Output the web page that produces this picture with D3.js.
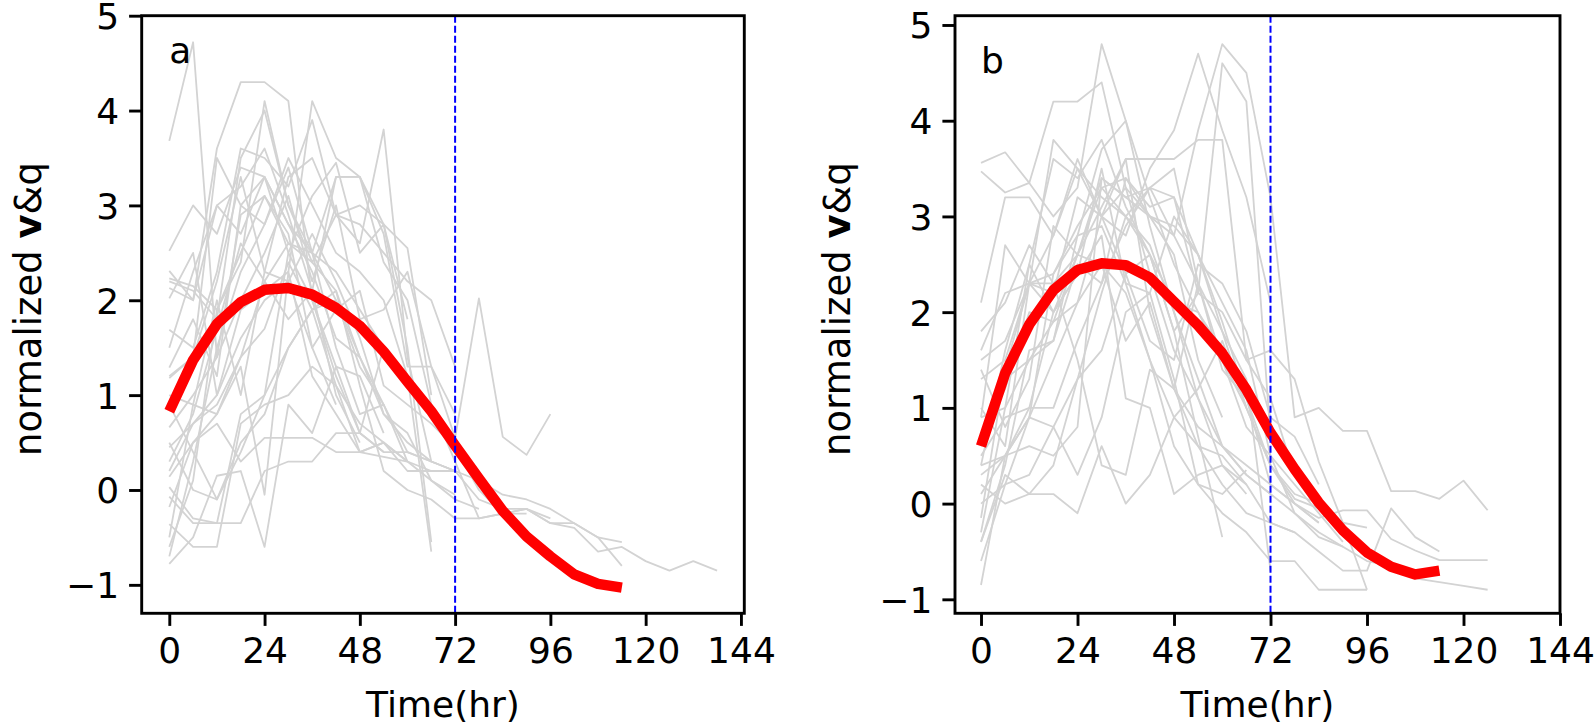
<!DOCTYPE html>
<html>
<head>
<meta charset="utf-8">
<script src="https://cdn.jsdelivr.net/npm/d3@7"></script>
<style>
html,body{margin:0;padding:0;background:#fff;}
svg{display:block;font-family:"DejaVu Sans",sans-serif;}
</style>
</head>
<body>
<svg id="chart" width="1594" height="728"></svg>
<script>
// ---- data (values every 6 hours starting at t = 0) ----
const timeStep = 6;
const xTicks = [0, 24, 48, 72, 96, 120, 144];
const yTicks = [-1, 0, 1, 2, 3, 4, 5];
const cutoffHour = 72;
const panelLabels = ["a", "b"];

const meanA = [0.83, 1.37, 1.75, 1.98, 2.11, 2.13, 2.06, 1.92, 1.73, 1.46, 1.14, 0.83, 0.47, 0.12, -0.22, -0.49, -0.70, -0.89, -0.99, -1.03];
const meanB = [0.60, 1.36, 1.87, 2.23, 2.44, 2.51, 2.49, 2.36, 2.11, 1.86, 1.57, 1.19, 0.74, 0.36, 0.01, -0.28, -0.51, -0.66, -0.74, -0.70];

const casesA = [
  [3.68, 4.72, 1.4, 2.9, 3.1, 2.7, 1.5, 0.9],
  [2.52, 3.0, 2.7, 3.4, 3.3, 2.8, 2.3, 1.6, 1.4],
  [2.31, 2.0, 3.6, 4.3, 4.3, 4.1, 2.0, 1.2, 0.6, 0.4],
  [2.23, 2.15, 1.9, 2.4, 4.1, 3.0, 2.5, 1.5, 0.8, 0.9, 0.3],
  [2.13, 2.0, 3.0, 3.2, 3.6, 2.9, 2.1, 3.3, 3.3, 2.7, 1.3, 1.3, 0.8],
  [2.02, 2.5, 1.0, 1.9, 2.1, 2.3, 4.1, 3.5, 3.3, 2.4, 2.0, 0.9, 0.3, -0.3, -0.25, -0.25],
  [1.69, 1.5, 2.3, 3.6, 3.5, 3.2, 3.9, 2.9, 2.6, 3.8, 1.4, 0.3, 0.2],
  [1.29, 1.8, 1.2, 3.0, 2.8, 3.4, 2.5, 3.3, 3.3, 2.8, 2.55, 1.0],
  [1.18, 1.4, 2.2, 3.3, 2.3, 2.2, 2.7, 2.2, 1.6, 0.8, 0.6, 0.1, -0.05],
  [0.66, 1.0, 1.4, 2.0, 2.5, 3.1, 2.2, 3.0, 1.8, 1.9, 2.3, 1.3, 0.55, 2.02, 0.56, 0.37, 0.8],
  [0.45, 0.7, 1.0, 1.6, 2.0, 2.2, 1.5, 1.9, 2.1, 1.1, 0.9, 0.7, 0.45, 0.0, -0.25, -0.2, -0.35, -0.35, -0.5, -0.55],
  [0.14, 0.5, 0.8, 1.4, 1.7, 2.4, 1.9, 2.1, 1.4, 0.8, 0.5, 0.3, 0.2, -0.1, -0.2, -0.2, -0.35, -0.4, -0.65, -0.6, -0.75, -0.85, -0.75, -0.85],
  [0.03, -0.3, -0.35, 0.8, 1.0, 1.5, 1.9, 2.0, 1.3, 0.9, 0.4, 0.3, 0.2, 0.1, -0.05, -0.1, -0.2, -0.35, -0.5, -0.8],
  [-0.07, -0.35, -0.35, -0.35, 0.2, 0.3, 0.3, 0.6, 0.6, 0.4, 0.4, 0.3],
  [-0.18, 0.5, 0.7, 0.3, 0.55, 0.55, 0.55, 0.4, 0.4, 0.5, 0.3, 0.2, 0.2],
  [-0.36, -0.6, -0.6, 0.7, 0.9, 1.0, 1.3, 1.1, 0.7, 0.5, 0.2, 0.2],
  [-0.78, -0.5, 0.15, 0.2, -0.6, 0.9, 0.6, 1.3, 1.2, 0.6],
  [-0.7, 0.3, 1.5, 2.3, 2.8, 3.5, 3.0, 2.5, 2.3, 2.0, 1.2, -0.65],
  [0.3, 0.8, 1.7, 2.6, 2.2, 1.8, 2.1, 1.0, 0.5],
  [1.0, 0.9, 0.8, 1.3, -0.05, 2.3, 1.2, 0.8, 0.4, 0.35, 0.3],
  [-0.6, 0.1, 1.9, 2.5, 3.1, 2.6, 2.5, 2.0, 1.4, 0.9],
  [0.5, 0.0, -0.1, 0.4, 1.0, 2.5, 3.1, 3.45, 2.5, 2.8, 1.5, -0.55],
  [1.2, 1.4, 3.5, 3.0, 3.3, 2.5, 2.0, 1.3, 0.6, 1.5],
  [-0.5, 0.9, 2.0, 1.0, 2.3, 3.3, 3.5, 2.9, 2.8, 2.5, 2.2, 2.0, 1.3],
  [2.2, 2.1, 1.8, 3.5, 4.0, 3.0, 2.4, 2.9, 3.0, 2.8, 1.8],
  [0.9, 0.4, -0.1, 0.5, 0.8, 1.5, 1.9, 1.1, 0.4, 0.5, 0.3, 0.1, -0.1, -0.2],
  [1.5, 2.3, 3.0, 2.7, 3.3, 2.8, 2.5, 2.3, 1.9, 1.5, 1.2],
  [0.2, 0.7, 0.9, 1.4, 2.2, 2.6, 2.4, 2.1, 1.1, 0.2, 0.0, -0.1, -0.3, -0.3, -0.25, -0.2, -0.3]
];

const casesB = [
  [3.56, 3.67, 3.35, 4.2, 4.2, 4.4, 3.3, 3.0, 2.6, 1.5, 0.9],
  [3.47, 3.25, 3.35, 3.0, 3.3, 4.8, 4.0, 3.2, 2.5, 2.0, 1.6],
  [2.1, 3.2, 3.2, 2.8, 3.6, 3.0, 2.8, 3.5, 3.9, 4.7, 3.9, 3.2, 2.1],
  [1.3, 1.5, 2.3, 2.4, 2.9, 3.3, 3.4, 3.0, 2.8, 3.9, 4.8, 4.5, 3.2, 0.9, 1.0, 0.76, 0.76, 0.13, 0.13, 0.05, 0.24, -0.07],
  [0.9, 2.7, 2.3, 3.8, 3.5, 3.0, 3.6, 3.6, 3.6, 3.8, 3.8, 1.5, 1.6, 1.3, 0.44, -0.2, -0.9],
  [0.4, 1.6, 2.5, 3.6, 3.4, 3.8, 3.1, 2.6, 1.8, 2.2, 4.6, 4.2, 0.7, 0.3, 0.0, -0.3, -0.55],
  [0.7, 1.2, 2.0, 1.9, 2.6, 3.3, 3.0, 2.7, 2.0, 1.3, 0.6, 0.4, 0.2, 0.0, -0.15, -0.07, -0.07, -0.37, -0.49, -0.59, -0.59, -0.59],
  [0.3, 0.5, 0.9, 1.5, 2.1, 3.0, 3.3, 2.4, 1.6, 1.1, 0.6, 0.3, 0.1, -0.1, -0.3, -0.45, -0.6, -0.65, -0.78, -0.82, -0.86, -0.9],
  [-0.15, 1.4, 2.3, 2.0, 2.4, 3.5, 2.3, 1.5, 0.6, 0.2, -0.1, -0.3, -0.6, -0.6, -0.9, -0.9, -0.9],
  [-0.85, 0.5, 1.0, 2.0, 2.6, 2.5, 1.7, 2.1, 1.2, 0.6, 0.2, -0.1, -0.2, -0.3, -0.5, -0.7, -0.7, -0.05, -0.35, -0.5],
  [0.0, 0.2, 0.9, 2.4, 2.8, 2.9, 2.3, 2.2, 3.0, 2.6, 1.8, 1.0, 0.4, 0.05, -0.05, -0.2, -0.25],
  [1.6, 2.2, 2.3, 2.2, 3.2, 3.0, 2.4, 1.7, 1.5, 2.5, 2.3, 1.8, 0.9, 0.7, 0.2],
  [-0.4, 0.3, 0.1, 0.1, -0.1, 0.6, 0.0, 0.3, 0.9, 1.2, 1.7, 1.0, 0.4, 0.1, 0.0],
  [0.2, 0.0, 0.1, 0.4, 1.3, 1.6, 2.4, 2.6, 2.1, 2.0, 1.5, 0.8, 0.5, 0.2, -0.1, -0.4],
  [0.1, 0.5, 0.9, 0.8, 0.3, 0.9, 2.0, 2.2, 1.3, 0.2, 0.1, 0.35],
  [-0.6, 0.2, 0.3, 0.8, 1.3, 2.2, 3.0, 3.3, 2.8, 2.3, 1.4, 1.1, 0.2, 0.0, -0.2],
  [1.0, 0.6, 2.3, 2.3, 2.6, 3.4, 3.2, 3.0, 2.9, 2.6, 2.1, 1.6, 0.5, -0.1, -0.35, -0.45],
  [0.5, 0.9, 1.0, 1.0, 1.7, 2.3, 3.4, 3.1, 3.2, 2.6, 1.9, 1.1, 0.4, 0.0, -0.2],
  [1.8, 2.1, 2.7, 2.3, 1.5, 0.4, 0.3, 1.4, 1.2, 0.8, 0.6, 0.3, 0.1],
  [1.4, 0.8, 1.3, 2.9, 2.6, 3.1, 3.6, 2.0, 1.2, 2.3, 1.5, 1.0],
  [0.6, 1.3, 1.5, 1.7, 2.5, 2.3, 2.9, 3.3, 3.2, 2.2, 2.0, 1.5, 1.1, 0.3],
  [-0.4, 0.4, 1.6, 1.7, 2.8, 3.7, 4.0, 2.9, 2.0, 1.1, 0.4, 0.2],
  [0.9, 1.0, 1.5, 1.9, 2.1, 2.5, 2.2, 1.5, 0.9, 0.6, 0.5, 0.2, -0.2, -0.3],
  [-0.3, 1.0, 2.5, 2.0, 2.4, 2.8, 1.1, 1.0, 0.1, 0.3, 0.4, 0.1],
  [1.5, 1.7, 2.3, 2.8, 3.5, 3.2, 3.0, 2.6, 1.8, 0.7, -0.35],
  [0.4, 0.5, 0.6, 0.5, 0.8, 3.4, 3.2, 3.3, 3.5, 2.3, 1.8, 1.3, -0.7]
];

// ---- drawing ----
const svg = d3.select("#chart");
const FONT = 36;

const panels = [
  {label: panelLabels[0], cases: casesA, mean: meanA,
   left: 141.7, right: 744.3, top: 15.7, bottom: 613.3,
   xdom: [-6.95, 144.85], ydom: [-1.30, 5.0], ylabelX: 40.5},
  {label: panelLabels[1], cases: casesB, mean: meanB,
   left: 955, right: 1560, top: 15.7, bottom: 613.3,
   xdom: [-6.47, 144.0], ydom: [-1.146, 5.097], ylabelX: 850}
];

const fmt = d => (d < 0 ? "\u2212" + Math.abs(d) : String(d));

panels.forEach(p => {
  const x = d3.scaleLinear().domain(p.xdom).range([p.left, p.right]);
  const y = d3.scaleLinear().domain(p.ydom).range([p.bottom, p.top]);
  const g = svg.append("g");

  const line = d3.line()
    .x((d, i) => x(i * timeStep))
    .y(d => y(d));

  // individual cases
  g.append("g").selectAll("path").data(p.cases).join("path")
    .attr("d", line)
    .attr("fill", "none")
    .attr("stroke", "#d3d3d3")
    .attr("stroke-width", 1.8)
    .attr("stroke-linejoin", "round");

  // mean curve
  g.append("path").datum(p.mean)
    .attr("d", line)
    .attr("fill", "none")
    .attr("stroke", "#ff0000")
    .attr("stroke-width", 10.5)
    .attr("stroke-linejoin", "round")
    .attr("stroke-linecap", "butt");

  // cutoff line
  g.append("line")
    .attr("x1", x(cutoffHour)).attr("x2", x(cutoffHour))
    .attr("y1", p.top).attr("y2", p.bottom)
    .attr("stroke", "#0000ff")
    .attr("stroke-width", 2)
    .attr("stroke-dasharray", "7,3");

  // axes
  const xAxis = d3.axisBottom(x).tickValues(xTicks).tickSize(12.6).tickPadding(10).tickFormat(fmt);
  const yAxis = d3.axisLeft(y).tickValues(yTicks).tickSize(12.6).tickPadding(10).tickFormat(fmt);

  const gx = g.append("g").attr("transform", `translate(0,${p.bottom})`).call(xAxis);
  const gy = g.append("g").attr("transform", `translate(${p.left},0)`).call(yAxis);
  [gx, gy].forEach(a => {
    a.select(".domain").remove();
    a.selectAll(".tick line").attr("stroke", "#000").attr("stroke-width", 2.9);
    a.selectAll(".tick text").attr("fill", "#000")
      .style("font-family", "'DejaVu Sans', sans-serif").style("font-size", FONT + "px");
  });
  gx.selectAll(".tick text").attr("dy", "0.74em");
  gy.selectAll(".tick text").attr("dy", "0.36em");

  // frame
  g.append("rect")
    .attr("x", p.left).attr("y", p.top)
    .attr("width", p.right - p.left).attr("height", p.bottom - p.top)
    .attr("fill", "none").attr("stroke", "#000").attr("stroke-width", 2.9);

  // panel label
  g.append("text")
    .attr("x", x(0)).attr("y", y(4.5))
    .style("font-size", FONT + "px")
    .text(p.label);

  // x label
  g.append("text")
    .attr("x", (p.left + p.right) / 2).attr("y", 717)
    .attr("text-anchor", "middle")
    .style("font-size", FONT + "px")
    .text("Time(hr)");

  // y label
  const yl = g.append("text")
    .attr("transform", `translate(${p.ylabelX},309) rotate(-90)`)
    .attr("text-anchor", "middle")
    .style("font-size", "37px");
  yl.append("tspan").text("normalized ");
  yl.append("tspan").attr("font-weight", "bold").text("v");
  yl.append("tspan").text("&q");
});
</script>
</body>
</html>
